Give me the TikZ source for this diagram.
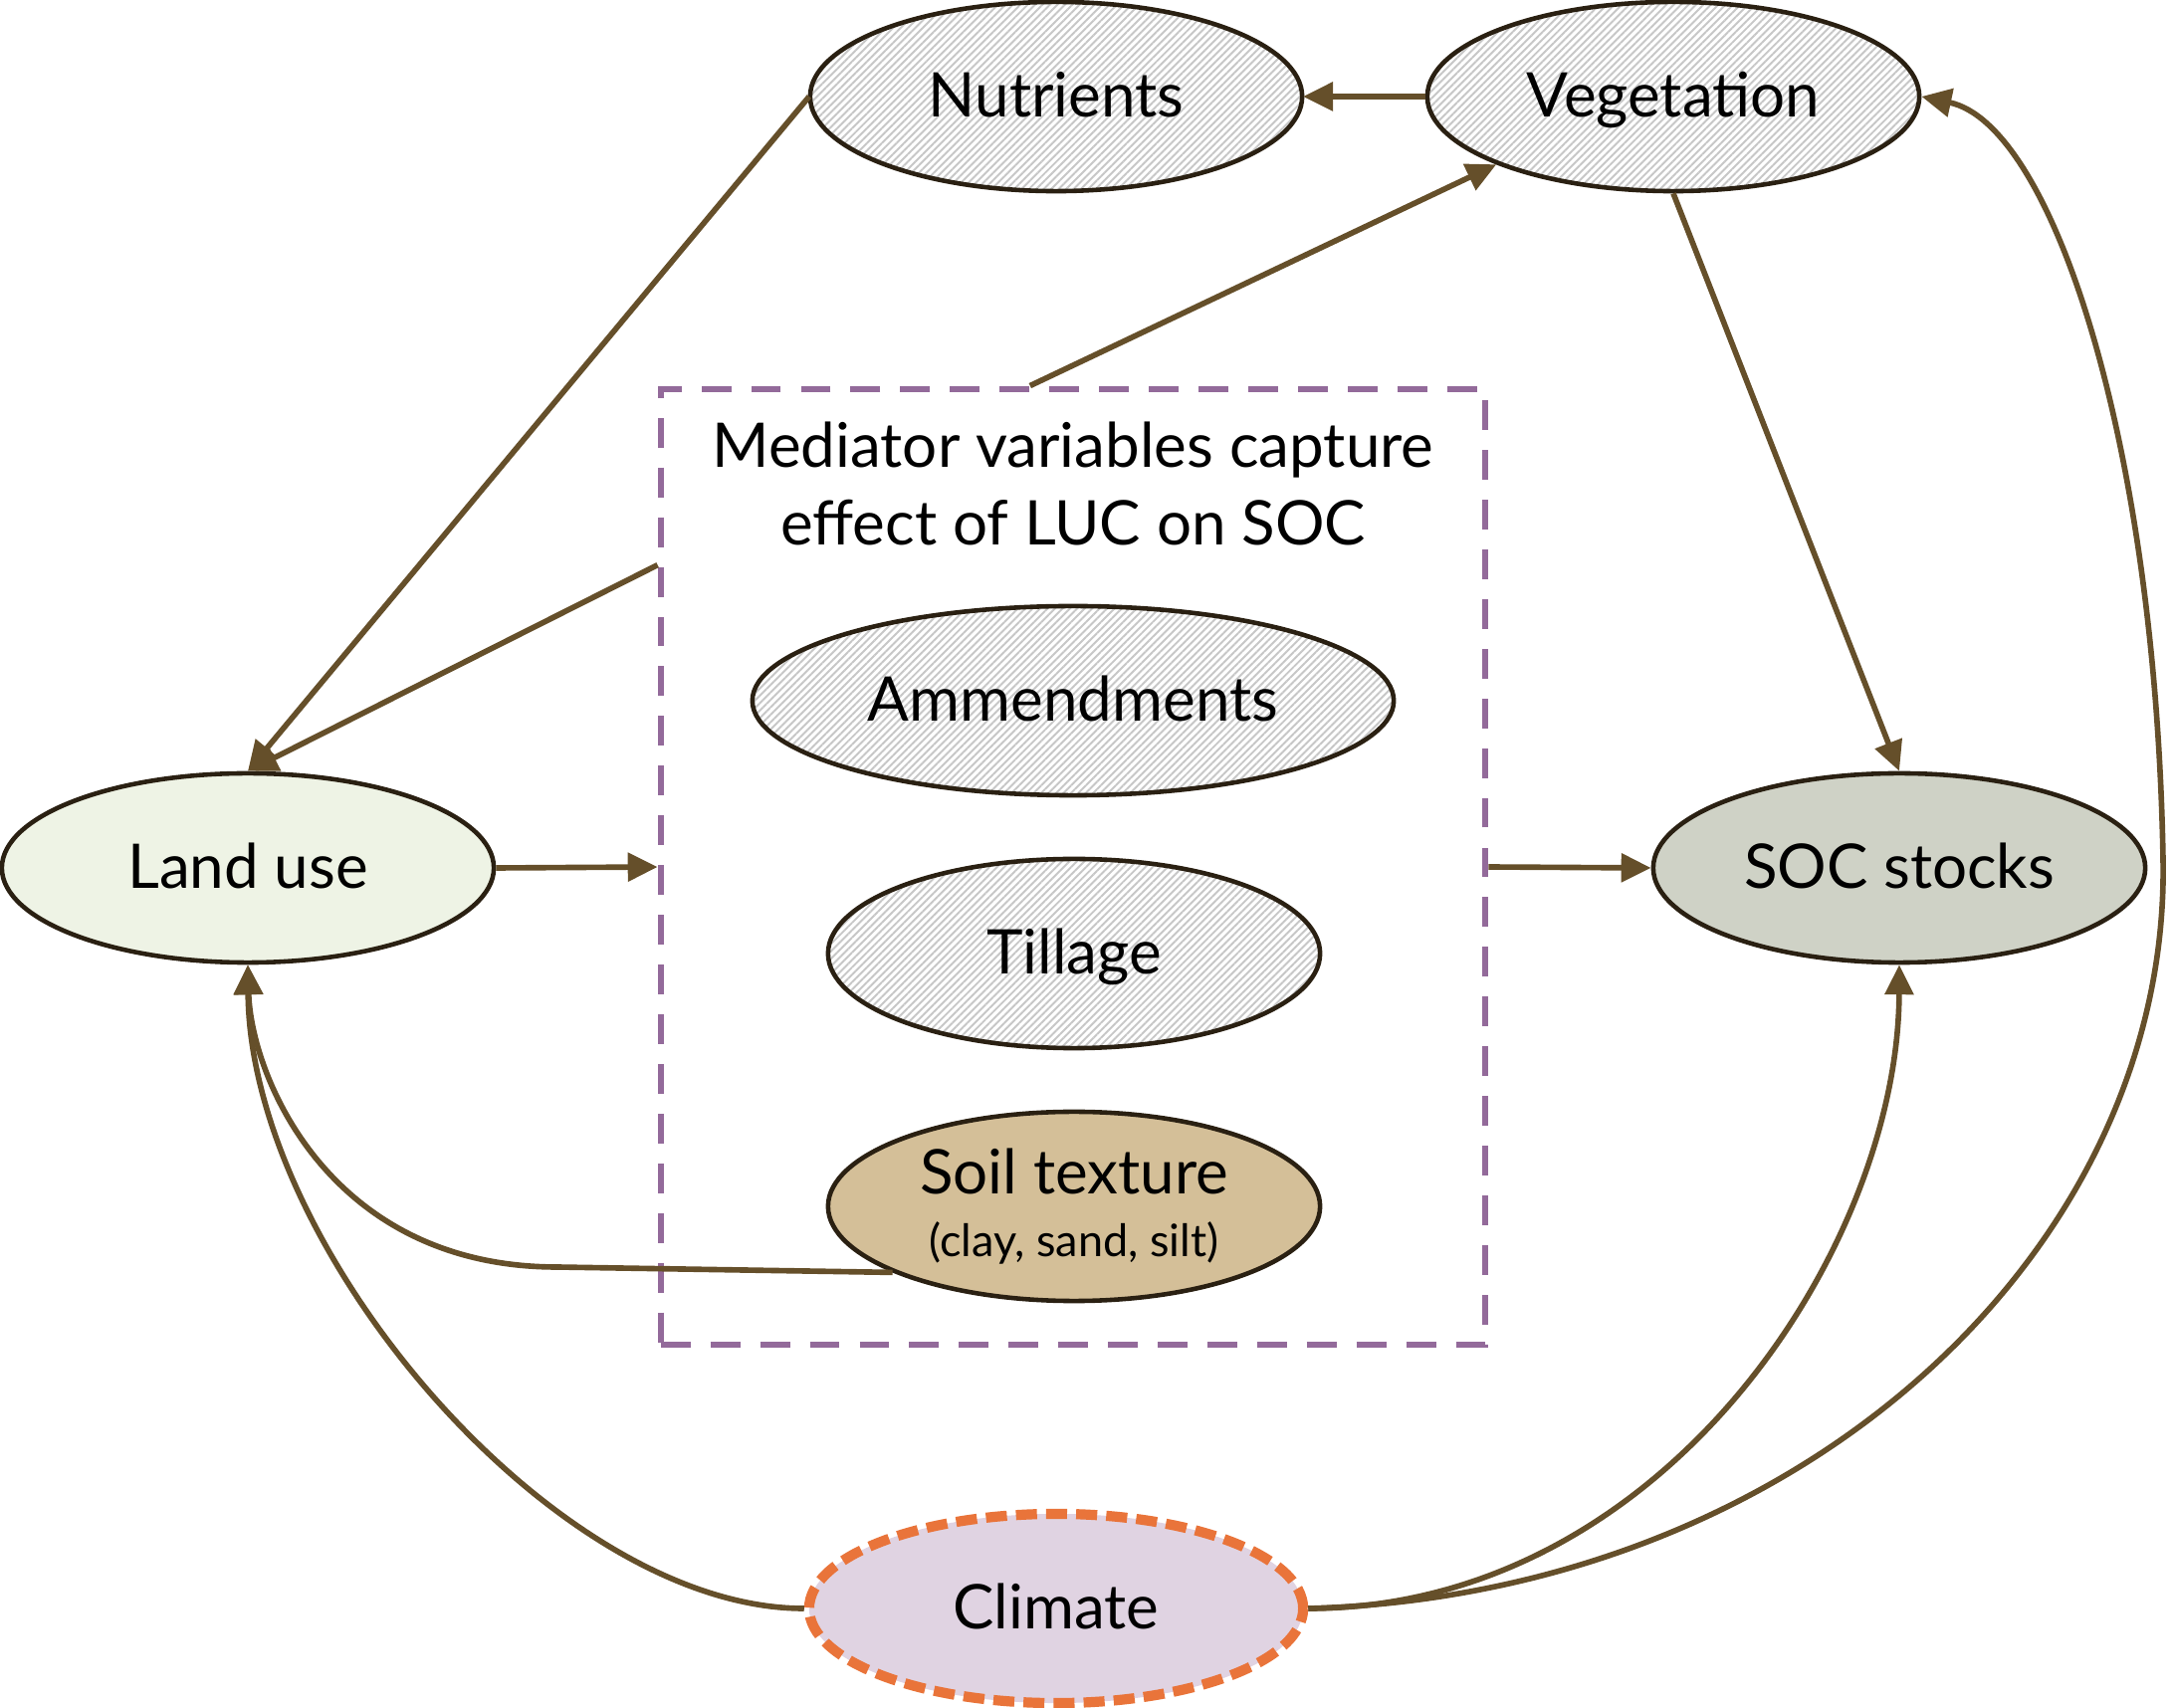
\documentclass[tikz,border=0pt]{standalone}
\usepackage{fontspec}
\setmainfont{Lato}
\usetikzlibrary{shapes.geometric,arrows.meta,patterns.meta}
\definecolor{arr}{HTML}{654F2A}
\definecolor{edgec}{HTML}{2A2012}
\definecolor{landc}{HTML}{EEF3E5}
\definecolor{socc}{HTML}{CFD2C6}
\definecolor{soilc}{HTML}{D4BF98}
\definecolor{climc}{HTML}{E0D3E2}
\definecolor{climb}{HTML}{E9743A}
\definecolor{boxc}{HTML}{936A9A}
\begin{document}
\begin{tikzpicture}[x=0.01cm,y=-0.01cm,
  every node/.style={font=\fontsize{17.6pt}{22pt}\selectfont},
  ell/.style={ellipse, draw=edgec, line width=1.3pt, inner sep=0pt,
    minimum width=4.94cm, minimum height=1.9cm},
  one/.style={text height=12.4pt, text depth=0.8pt},
  hatch/.style={ell, one, preaction={fill=white},
    pattern={Lines[angle=45,distance=1.5pt,line width=0.55pt]}, pattern color=black!22},
  conn/.style={draw=arr, line width=1.6pt, -{Triangle[length=8.5pt,width=8pt]}, arr}
]
\useasboundingbox (0,0) rectangle (2184,1716);

% mediator box
\node[draw=boxc, dash pattern=on 8.5pt off 5.7pt, line width=1.8pt,
      minimum width=8.28cm, minimum height=9.6cm, inner sep=0pt] (med) at (1078,871) {};
\node[align=center] (medt) at (1078,486) {Mediator variables capture\\effect of LUC on SOC};

% nodes
\node[hatch] (nut) at (1061,97) {Nutrients};
\node[hatch] (veg) at (1681,97) {Vegetation};
\node[ell, one, fill=landc] (land) at (249,872) {Land use};
\node[ell, one, fill=socc] (soc) at (1908,872) {SOC stocks};
\node[hatch, minimum width=6.44cm] (amm) at (1078,704) {Ammendments};
\node[hatch] (till) at (1079,958) {Tillage};
\node[ell, fill=soilc, align=center] (soil) at (1079,1212)
  {Soil texture\\[-4pt]{\fontsize{12.8pt}{15pt}\selectfont (clay, sand, silt)}};
\node[ell, one, fill=climc, draw=climb, line width=2.9pt, dash pattern=on 6pt off 2.6pt,
      minimum width=4.96cm] (clim) at (1061,1616) {Climate};

% anchor points on the box
\coordinate (mtop) at ([xshift=3.74cm]med.north west);
\coordinate (mleft) at ([yshift=-1.8cm]med.north west);

% connectors
\draw[conn] (veg.west) -- (nut.east);
\draw[conn] (nut.west) -- (land.north);
\draw[conn] (mleft) -- (land.north);
\draw[conn] (mtop) -- (veg.201);
\draw[conn] (veg.south) -- (soc.north);
\draw[conn] (land.east) -- (med.west);
\draw[conn] (med.east) -- (soc.west);
\draw[conn] (soil.200) -- (560,1273) .. controls (330,1273) and (252,1080) .. (land.south);
\draw[conn] (clim.west) .. controls (557,1616) and (251,1254) .. (land.south);
\draw[conn] (clim.east) .. controls (1671,1616) and (1907,1254) .. (soc.south);
\draw[conn] (clim.east) .. controls (1811,1602) and (2180,1254) .. (2173,864)
   .. controls (2166,446) and (2062,125) .. (veg.east);
\end{tikzpicture}
\end{document}
